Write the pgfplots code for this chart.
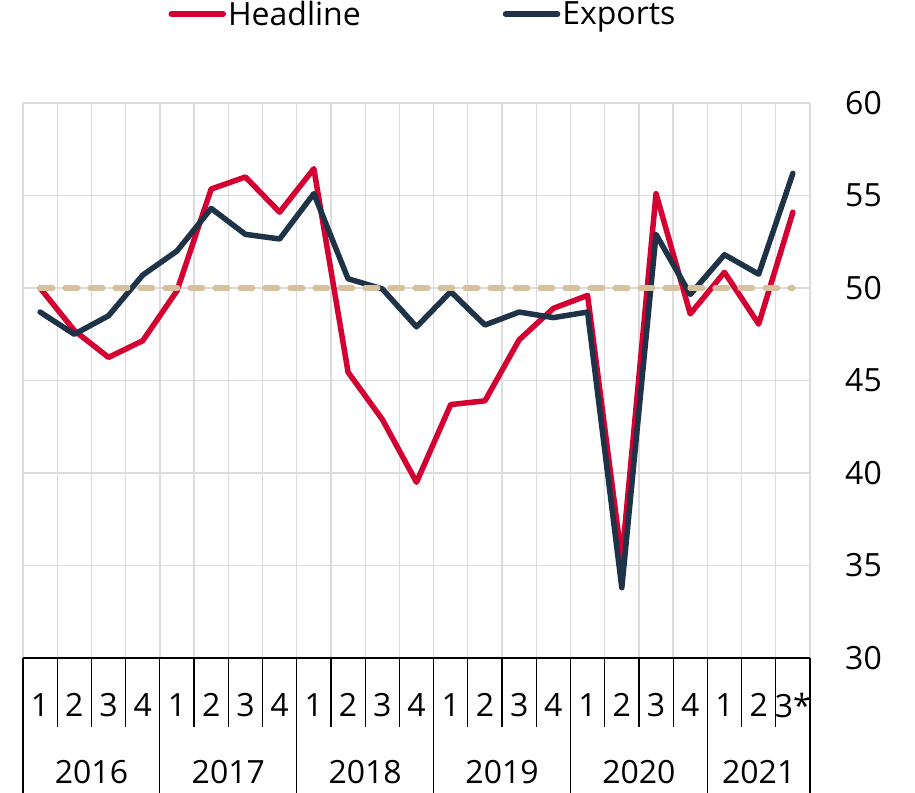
\documentclass[border=0pt]{standalone}
\usepackage{fontspec}
\setmainfont{Open Sans}
\usepackage{pgfplots}
\pgfplotsset{compat=1.18}
\definecolor{hred}{HTML}{D50032}
\definecolor{exnavy}{HTML}{1E3248}
\definecolor{tanline}{HTML}{D6C19C}
\definecolor{gridgray}{HTML}{DCDCDC}
\newcommand{\cf}{\fontsize{32}{38}\selectfont}
\begin{document}
\begin{tikzpicture}
\path[use as bounding box] (-23pt,-134pt) rectangle (892pt,658pt);
\begin{axis}[
  at={(0,0)}, anchor=south west,
  scale only axis, width=787pt, height=555pt,
  xmin=-0.5, xmax=22.5, ymin=30, ymax=60,
  ytick={30,35,...,60},
  yticklabel pos=right,
  yticklabel style={anchor=west, inner sep=0pt, xshift=35pt},
  xtick={0,...,22},
  xticklabels={1,2,3,4,1,2,3,4,1,2,3,4,1,2,3,4,1,2,3,4,1,2,3*},
  xticklabel style={anchor=center, yshift=-47pt, inner sep=0pt},
  minor xtick={-0.5,0.5,...,22.5},
  xminorgrids, ymajorgrids,
  grid style={gridgray, line width=1.3pt},
  minor grid style={gridgray, line width=1.3pt},
  major tick length=0pt, minor tick length=0pt,
  axis line style={draw=none},
  tick label style={font=\cf},
  /pgf/number format/assume math mode=true,
  clip=false,
  legend columns=2,
  legend style={at={(0.5,1)}, anchor=center, xshift=6.5pt, yshift=89pt, draw=none, fill=none, font=\cf,
    inner sep=0pt,
    nodes={inner sep=2pt},
    /tikz/every even column/.append style={column sep=140pt}},
  legend image code/.code={\draw[#1, line cap=round] (0pt,0pt) -- (52pt,0pt);},
]
\addplot[hred, line width=5.5pt, line join=round, line cap=round] coordinates {
(0,50.0) (1,47.7) (2,46.25) (3,47.15) (4,49.85) (5,55.35) (6,56.0) (7,54.1)
(8,56.45) (9,45.45) (10,42.9) (11,39.5) (12,43.7) (13,43.9) (14,47.2) (15,48.9)
(16,49.6) (17,35.3) (18,55.1) (19,48.6) (20,50.85) (21,48.05) (22,54.1)};
\addlegendentry{Headline}
\addplot[exnavy, line width=5.5pt, line join=round, line cap=round] coordinates {
(0,48.7) (1,47.5) (2,48.5) (3,50.7) (4,52.0) (5,54.3) (6,52.9) (7,52.65)
(8,55.1) (9,50.5) (10,49.95) (11,47.9) (12,49.8) (13,48.0) (14,48.7) (15,48.4)
(16,48.7) (17,33.8) (18,52.9) (19,49.65) (20,51.8) (21,50.75) (22,56.2)};
\addlegendentry{Exports}
\addplot[tanline, line width=5.5pt, line cap=round, dash pattern=on 12.5pt off 12.5pt, forget plot] coordinates {(0,50) (22,50)};
% category axis decorations
\draw[black, line width=1.2pt] (axis cs:-0.5,30) -- (axis cs:22.5,30);
\pgfplotsinvokeforeach{0.5,1.5,2.5,4.5,5.5,6.5,8.5,9.5,10.5,12.5,13.5,14.5,16.5,17.5,18.5,20.5,21.5}{
  \draw[black, line width=1.2pt] (axis cs:#1,30) -- ++(0pt,-69pt);
}
\pgfplotsinvokeforeach{-0.5,3.5,7.5,11.5,15.5,19.5,22.5}{
  \draw[black, line width=1.2pt] (axis cs:#1,30) -- ++(0pt,-140pt);
}
\node[font=\cf] at (axis cs:1.5,30) [yshift=-114pt] {2016};
\node[font=\cf] at (axis cs:5.5,30) [yshift=-114pt] {2017};
\node[font=\cf] at (axis cs:9.5,30) [yshift=-114pt] {2018};
\node[font=\cf] at (axis cs:13.5,30) [yshift=-114pt] {2019};
\node[font=\cf] at (axis cs:17.5,30) [yshift=-114pt] {2020};
\node[font=\cf] at (axis cs:21,30) [yshift=-114pt] {2021};
\end{axis}
\end{tikzpicture}
\end{document}
